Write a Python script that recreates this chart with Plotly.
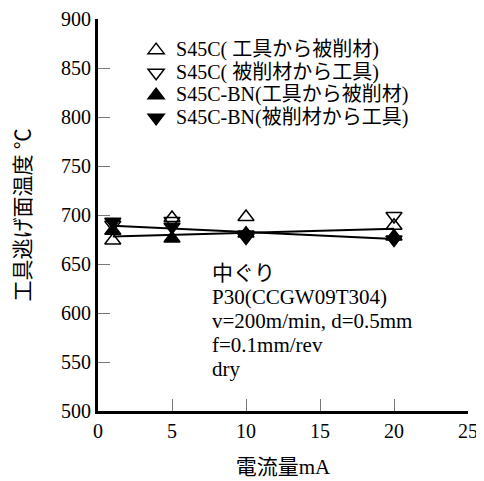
import plotly.graph_objects as go

current = [1, 5, 10, 20]
s45c_t2w = [674, 697, 698, 689]
s45c_w2t = [690, 694, 680, 699]
bn_t2w = [684, 676, 681, 678]
bn_w2t = [693, 688, 677, 675]

fit_x = [1, 20]
fit_a = [689, 675.5]
fit_b = [678, 686]

names = ["S45C( 工具から被削材)", "S45C( 被削材から工具)",
         "S45C-BN(工具から被削材)", "S45C-BN(被削材から工具)"]

note_lines = ["中ぐり", "P30(CCGW09T304)", "v=200m/min, d=0.5mm", "f=0.1mm/rev", "dry"]

serif = "Liberation Serif, Times New Roman, Noto Sans CJK JP, serif"

fig = go.Figure()
fig.add_trace(go.Scatter(x=fit_x, y=fit_a, mode="lines", line=dict(color="black", width=2), showlegend=False))
fig.add_trace(go.Scatter(x=fit_x, y=fit_b, mode="lines", line=dict(color="black", width=2), showlegend=False))

styles = [("triangle-up-open", s45c_t2w), ("triangle-down-open", s45c_w2t),
          ("triangle-up", bn_t2w), ("triangle-down", bn_w2t)]
for (sym, ys), nm in zip(styles, names):
    fig.add_trace(go.Scatter(x=current, y=ys, mode="markers",
                             name='<span style="font-size:20px">' + nm + '</span>',
                             marker=dict(symbol=sym, size=14, color="black",
                                         line=dict(color="black", width=1.5))))

for i, t in enumerate(note_lines):
    fig.add_annotation(x=7.6, y=0.352 - i * 0.0612, xref="x", yref="paper", xanchor="left", yanchor="middle",
                       text=t, showarrow=False, align="left",
                       font=dict(family=serif, size=21, color="black"))

fig.update_layout(
    width=484, height=481,
    margin=dict(l=90, r=24, t=11, b=78),
    paper_bgcolor="white", plot_bgcolor="white",
    font=dict(family=serif, size=20, color="black"),
    legend=dict(x=0.103, y=0.962, xanchor="left", yanchor="top", bgcolor="rgba(0,0,0,0)",
                font=dict(family=serif, size=15, color="black"), tracegroupgap=0,
                itemsizing="trace", itemwidth=30),
    xaxis=dict(range=[0, 25], tickvals=[0, 5, 10, 15, 20, 25], ticks="inside", ticklen=12,
               tickcolor="#777", tickwidth=1, showline=True, linecolor="black", linewidth=3,
               showgrid=False, zeroline=False, automargin=False,
               tickfont=dict(family=serif, size=20),
               title=dict(text="電流量mA", font=dict(family=serif, size=21), standoff=19)),
    yaxis=dict(range=[500, 900], tickvals=list(range(500, 901, 50)), ticks="inside", ticklen=12,
               tickcolor="#777", tickwidth=1, showline=True, linecolor="black", linewidth=3,
               showgrid=False, zeroline=False, automargin=False,
               tickfont=dict(family=serif, size=20),
               title=dict(text="工具逃げ面温度 ℃", font=dict(family=serif, size=21), standoff=25)),
)

fig.write_html("out.html")
